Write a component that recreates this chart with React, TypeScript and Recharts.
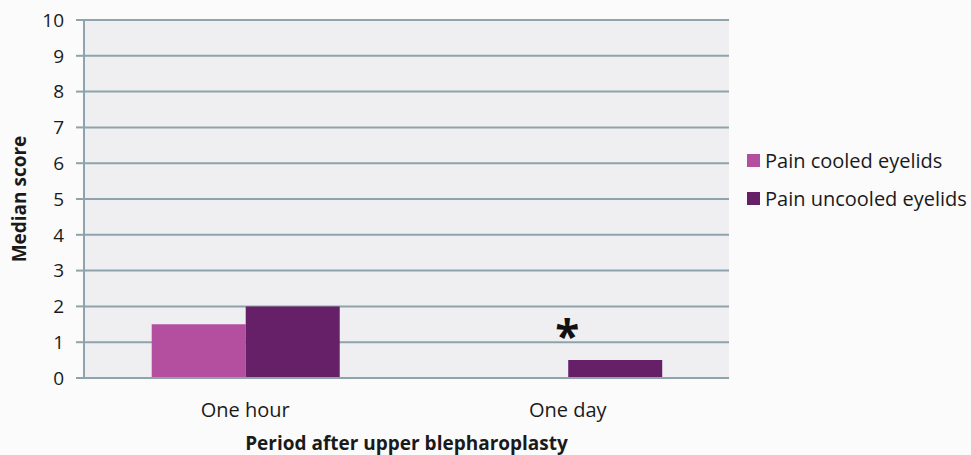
import { BarChart, Bar, XAxis, YAxis, CartesianGrid, Label, LabelList } from 'recharts';

const periods = ['One hour', 'One day'];
const painCooled = [1.5, 0];
const painUncooled = [2, 0.5];
const significant = [false, true];
const yTicks = [0, 1, 2, 3, 4, 5, 6, 7, 8, 9, 10];

const COLORS = {
  cooled: '#b44f9f',
  uncooled: '#652067',
  grid: '#8ea3ab',
  plotBg: '#efeff1',
  text: '#1a1a1a',
};

const FONT = '"Open Sans", Lato, sans-serif';

const chartData = periods.map((p, i) => ({
  period: p,
  cooled: painCooled[i],
  uncooled: painUncooled[i],
  sig: significant[i],
}));

const legendItems = [
  { name: 'Pain cooled eyelids', color: COLORS.cooled },
  { name: 'Pain uncooled eyelids', color: COLORS.uncooled },
];

// Asterisk over the category where the difference is significant
const StarLabel = (props: any) => {
  const { x, y, index } = props;
  if (!chartData[index]?.sig) return null;
  return (
    <text x={x - 1} y={y - 8} textAnchor="middle" fontSize={44} fontWeight={700} fontFamily={FONT} fill="#111">
      *
    </text>
  );
};

export default function App() {
  return (
    <div style={{ position: 'absolute', left: 0, top: 0, width: 971, height: 455, background: '#fbfbfc' }}>
      <BarChart
        width={971}
        height={455}
        data={chartData}
        margin={{ top: 20, right: 242, left: 8, bottom: 0 }}
        barCategoryGap="21%"
        barGap={0}
      >
        <CartesianGrid vertical={false} stroke={COLORS.grid} strokeWidth={2} fill={COLORS.plotBg} />
        <XAxis
          dataKey="period"
          height={77}
          axisLine={{ stroke: COLORS.grid, strokeWidth: 2 }}
          tickLine={false}
          tickMargin={19}
          tick={{ fill: COLORS.text, fontSize: 20, fontFamily: FONT }}
        >
          <Label
            value="Period after upper blepharoplasty"
            position="insideBottom"
            offset={5}
            style={{ fill: COLORS.text, fontSize: 19, fontWeight: 700, fontFamily: FONT }}
          />
        </XAxis>
        <YAxis
          width={76}
          domain={[0, 10]}
          ticks={yTicks}
          interval={0}
          axisLine={{ stroke: COLORS.grid, strokeWidth: 2 }}
          tickLine={{ stroke: COLORS.grid, strokeWidth: 2 }}
          tickSize={8}
          tickMargin={12}
          tick={{ fill: COLORS.text, fontSize: 19, fontFamily: FONT }}
        >
          <Label
            value="Median score"
            angle={-90}
            position="insideLeft"
            offset={11}
            style={{ textAnchor: 'middle', fill: COLORS.text, fontSize: 19, fontWeight: 700, fontFamily: FONT }}
          />
        </YAxis>
        <Bar dataKey="cooled" name="Pain cooled eyelids" fill={COLORS.cooled} isAnimationActive={false} />
        <Bar dataKey="uncooled" name="Pain uncooled eyelids" fill={COLORS.uncooled} isAnimationActive={false}>
          <LabelList dataKey="uncooled" content={<StarLabel />} />
        </Bar>
      </BarChart>
      <div style={{ position: 'absolute', left: 747, top: 141, fontFamily: FONT, fontSize: 20, color: COLORS.text, whiteSpace: 'nowrap' }}>
        {legendItems.map((item) => (
          <div key={item.name} style={{ display: 'flex', alignItems: 'center', height: 38 }}>
            <span style={{ width: 13, height: 13, background: item.color, marginRight: 5, display: 'inline-block' }} />
            <span>{item.name}</span>
          </div>
        ))}
      </div>
    </div>
  );
}
